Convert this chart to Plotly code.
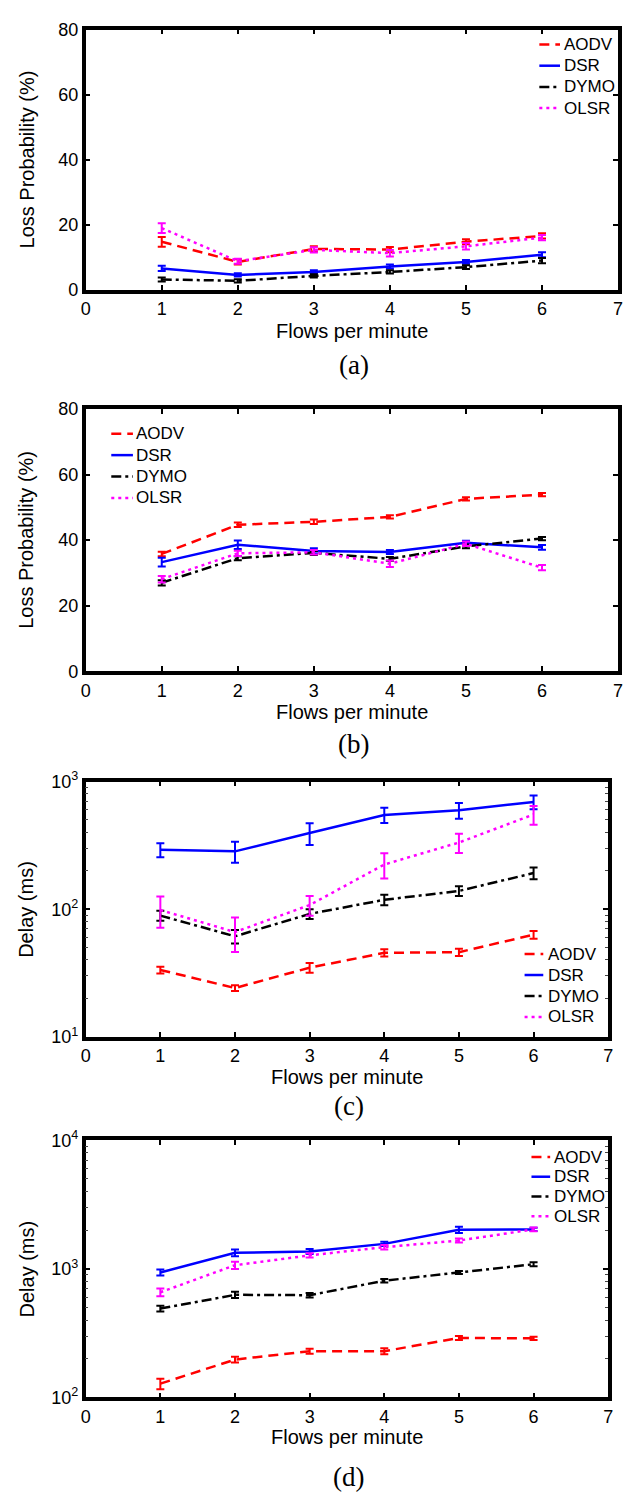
import plotly.graph_objects as go

W, H = 627, 1505

flows = [1, 2, 3, 4, 5, 6]
protocols = ["AODV", "DSR", "DYMO", "OLSR"]

# Panel (a): loss probability (%)
a_aodv = [14.8, 8.6, 12.6, 12.4, 14.8, 16.6]
a_aodv_err = [1.5, 0.8, 0.8, 0.8, 0.8, 0.8]
a_dsr = [6.6, 4.6, 5.5, 7.2, 8.6, 10.8]
a_dsr_err = [0.8, 0.5, 0.5, 0.6, 0.6, 0.8]
a_dymo = [3.2, 2.8, 4.3, 5.5, 7.0, 9.0]
a_dymo_err = [0.6, 0.5, 0.5, 0.5, 0.6, 0.8]
a_olsr = [19.0, 8.8, 12.3, 11.3, 13.4, 16.1]
a_olsr_err = [1.5, 0.8, 0.8, 1.0, 1.0, 0.8]

# Panel (b): loss probability (%)
b_aodv = [35.8, 44.7, 45.6, 47.1, 52.6, 53.9]
b_aodv_err = [0.7, 0.7, 0.7, 0.5, 0.5, 0.5]
b_dsr = [33.3, 38.6, 36.7, 36.4, 39.2, 37.8]
b_dsr_err = [1.3, 1.3, 0.8, 0.6, 0.6, 0.7]
b_dymo = [27.0, 34.5, 36.1, 34.3, 38.1, 40.5]
b_dymo_err = [0.8, 0.6, 0.6, 0.6, 0.6, 0.5]
b_olsr = [28.1, 36.0, 36.3, 32.8, 38.9, 31.6]
b_olsr_err = [1.0, 0.8, 0.7, 1.0, 0.7, 0.8]

# Panel (c): delay (ms)
c_aodv = [33.4, 24.1, 34.8, 45.5, 46.0, 63.1]
c_aodv_err = [2, 1.3, 3, 3, 3, 4.5]
c_dsr = [292, 284, 395, 548, 596, 692]
c_dsr_err = [37, 53, 76, 75, 84, 85]
c_dymo = [89.1, 61.3, 91.8, 118.5, 139, 192]
c_dymo_err = [8, 7.5, 8, 11, 12, 20]
c_olsr = [98.5, 66.2, 107.7, 224, 333, 552]
c_olsr_err = [27, 20, 19, 50, 57, 93]

# Panel (d): delay (ms)
d_aodv = [128, 197, 229, 229, 290, 288]
d_aodv_err = [12, 10, 10, 12, 10, 8]
d_dsr = [937, 1334, 1367, 1564, 2014, 2027]
d_dsr_err = [50, 80, 60, 60, 110, 60]
d_dymo = [491, 628, 624, 809, 937, 1086]
d_dymo_err = [25, 35, 25, 25, 25, 40]
d_olsr = [658, 1067, 1273, 1475, 1660, 2027]
d_olsr_err = [45, 70, 50, 60, 60, 70]

x_ticks = [0, 1, 2, 3, 4, 5, 6, 7]
loss_ticks = [0, 20, 40, 60, 80]
c_ticks = [10, 100, 1000]
c_ticklabels = ["10<sup>1</sup>", "10<sup>2</sup>", "10<sup>3</sup>"]
d_ticks = [100, 1000, 10000]
d_ticklabels = ["10<sup>2</sup>", "10<sup>3</sup>", "10<sup>4</sup>"]

x_title = "Flows per minute"
y_titles = ["Loss Probability (%)", "Loss Probability (%)", "Delay (ms)", "Delay (ms)"]
captions = ["(a)", "(b)", "(c)", "(d)"]

colors = ["#ff0000", "#0000ff", "#000000", "#ff00ff"]
dashes = ["10px,6px", "solid", "10px,4px,3px,4px", "3px,4px"]

panels = [
    [(a_aodv, a_aodv_err), (a_dsr, a_dsr_err), (a_dymo, a_dymo_err), (a_olsr, a_olsr_err)],
    [(b_aodv, b_aodv_err), (b_dsr, b_dsr_err), (b_dymo, b_dymo_err), (b_olsr, b_olsr_err)],
    [(c_aodv, c_aodv_err), (c_dsr, c_dsr_err), (c_dymo, c_dymo_err), (c_olsr, c_olsr_err)],
    [(d_aodv, d_aodv_err), (d_dsr, d_dsr_err), (d_dymo, d_dymo_err), (d_olsr, d_olsr_err)],
]

# layout geometry in pixels: (left, right, top, bottom)
boxes = [(82, 623, 18, 282), (82, 623, 403, 669), (82, 613, 781, 1040), (82, 613, 1145, 1406)]
xtitle_y = [324, 710, 1081, 1446]
caption_y = [358, 743, 1110, 1487]
legend_pos = [  # (sample x0, sample x1, text x, first y, step)
    (543, 564, 566, 33, 21.5),
    (108, 130, 131, 428, 21.7),
    (528, 547, 550, 956, 21.3),
    (535, 554, 556, 1162, 20.0),
]

FONT = "Liberation Sans, Arial, Helvetica, sans-serif"


def X(px):
    return px / W


def Y(py):
    return 1 - py / H


fig = go.Figure()
layout = dict(
    width=W, height=H, autosize=False,
    margin=dict(l=0, r=0, t=0, b=0),
    paper_bgcolor="white", plot_bgcolor="white",
    showlegend=False,
    font=dict(family=FONT, color="black"),
)
annotations = []
shapes = []

for i, series in enumerate(panels):
    n = i + 1
    xa = "x" if n == 1 else f"x{n}"
    ya = "y" if n == 1 else f"y{n}"
    for j, (vals, errs) in enumerate(series):
        fig.add_trace(go.Scatter(
            x=flows, y=vals, name=protocols[j], mode="lines",
            line=dict(color=colors[j], width=2.5, dash=dashes[j]),
            error_y=dict(type="data", array=errs, visible=True,
                         color=colors[j], thickness=2, width=4),
            xaxis=xa, yaxis=ya,
        ))
    l, r, t, b = boxes[i]
    common = dict(
        showline=True, linewidth=3.5, linecolor="black", mirror="allticks",
        ticks="inside", ticklen=5, tickwidth=2, tickcolor="black",
        showgrid=False, zeroline=False,
        tickfont=dict(family=FONT, size=18, color="black"),
    )
    layout["xaxis" if n == 1 else f"xaxis{n}"] = dict(
        domain=[X(l), X(r)], range=[0, 7], tickvals=x_ticks,
        anchor=ya, **common)
    if i < 2:
        yax = dict(domain=[Y(b), Y(t)], range=[0, 80], tickvals=loss_ticks,
                   anchor=xa, **common)
    else:
        tv = c_ticks if i == 2 else d_ticks
        tt = c_ticklabels if i == 2 else d_ticklabels
        rng = [1, 3] if i == 2 else [2, 4]
        yax = dict(domain=[Y(b), Y(t)], type="log", range=rng,
                   tickvals=tv, ticktext=tt, anchor=xa,
                   minor=dict(ticks="inside", ticklen=3, tickwidth=1,
                              tickcolor="#444", dtick="D1"),
                   **common)
    layout["yaxis" if n == 1 else f"yaxis{n}"] = yax

    # axis titles and caption
    annotations.append(dict(
        x=X((l + r) / 2), y=Y(xtitle_y[i]), xref="paper", yref="paper",
        text=x_title, showarrow=False, xanchor="center", yanchor="middle",
        font=dict(family=FONT, size=20, color="black")))
    annotations.append(dict(
        x=X(22), y=Y((t + b) / 2), xref="paper", yref="paper",
        text=y_titles[i], showarrow=False, textangle=-90,
        xanchor="center", yanchor="middle",
        font=dict(family=FONT, size=20, color="black")))
    annotations.append(dict(
        x=X((l + r) / 2 + 2), y=Y(caption_y[i]), xref="paper", yref="paper",
        text=captions[i], showarrow=False, xanchor="center", yanchor="middle",
        font=dict(family="Liberation Serif, DejaVu Serif, serif", size=27,
                  color="black")))

    # legend (drawn in paper space)
    sx0, sx1, tx, y0, step = legend_pos[i]
    for j, name in enumerate(protocols):
        yy = y0 + j * step
        shapes.append(dict(
            type="line", xref="paper", yref="paper",
            x0=X(sx0), x1=X(sx1), y0=Y(yy), y1=Y(yy),
            line=dict(color=colors[j], width=2.5, dash=dashes[j])))
        annotations.append(dict(
            x=X(tx), y=Y(yy), xref="paper", yref="paper", text=name,
            showarrow=False, xanchor="left", yanchor="middle",
            font=dict(family=FONT, size=17, color="black")))

layout["annotations"] = annotations
layout["shapes"] = shapes
fig.update_layout(**layout)
fig.write_html("out.html", config={"displayModeBar": False},
               post_script="document.body.style.margin='0px';")
